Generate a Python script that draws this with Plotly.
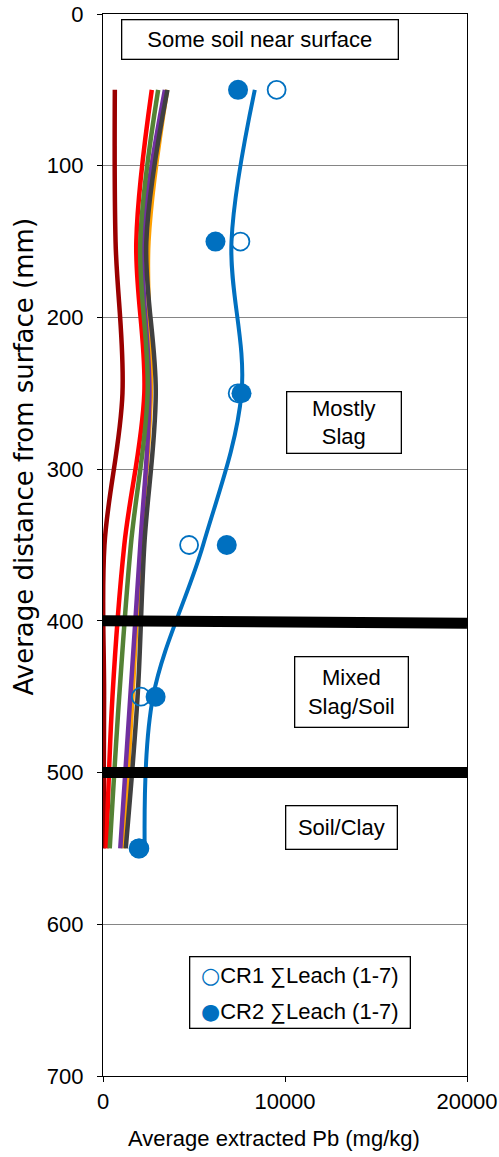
import plotly.graph_objects as go

depth = [50, 150, 250, 350, 450, 550]

dark_red = [650, 690, 1070, 80, 60, 30]
red = [2680, 1830, 2270, 1170, 520, 190]
green = [3030, 2050, 2450, 1530, 890, 370]
purple = [3400, 2190, 2550, 2050, 1500, 950]
orange = [3520, 2500, 2630, 2080, 1620, 1130]
dark_gray = [3540, 2380, 2900, 2270, 1900, 1250]
blue_curve = [8340, 7060, 7610, 5500, 2750, 2290]

cr1 = [9540, 7550, 7400, 4730, 2080, 2000]
cr2 = [7420, 6180, 7610, 6800, 2890, 1960]

x_ticks = [0, 10000, 20000]
x_tick_labels = ["0", "10000", "20000"]

boundary_x = [0, 20000]
boundary_400 = [400, 401.5]
boundary_500 = [500, 500]

FONT = "Liberation Sans, Arial, sans-serif"
BLUE = "#0070C0"

fig = go.Figure()

for xs, col in [(orange, "#FFA000"), (purple, "#7030A0"), (dark_red, "#9A0000"),
                (red, "#FF0000"), (green, "#548235"), (dark_gray, "#404040")]:
    fig.add_trace(go.Scatter(x=xs, y=depth, mode="lines",
                             line=dict(color=col, width=4.5, shape="spline"),
                             showlegend=False, hoverinfo="skip"))

fig.add_trace(go.Scatter(x=blue_curve, y=depth, mode="lines",
                         line=dict(color=BLUE, width=4, shape="spline"),
                         showlegend=False))

for yy in (boundary_400, boundary_500):
    fig.add_trace(go.Scatter(x=boundary_x, y=yy, mode="lines",
                             line=dict(color="black", width=11),
                             showlegend=False))

fig.add_trace(go.Scatter(x=cr1, y=depth, mode="markers", name="CR1 \u2211Leach (1-7)",
                         marker=dict(symbol="circle-open", size=18, color=BLUE,
                                     line=dict(width=1.8, color=BLUE)),
                         showlegend=False))
fig.add_trace(go.Scatter(x=cr2, y=depth, mode="markers", name="CR2 \u2211Leach (1-7)",
                         marker=dict(symbol="circle", size=20, color=BLUE),
                         showlegend=False))


def box(text, x, y, w, h, align="center"):
    fig.add_annotation(x=x, y=y, xref="x", yref="y", text=text, showarrow=False,
                       font=dict(family=FONT, size=22, color="black"),
                       bordercolor="black", borderwidth=1.3, borderpad=0,
                       bgcolor="white", width=w, height=h, align=align)


box("Some soil near surface", 8620, 17.1, 275, 38)
box("Mostly<br>Slag", 13215, 269.3, 113, 60)
box("Mixed<br>Slag/Soil", 13630, 446.7, 112, 69)
box("Soil/Clay", 13130, 536, 110, 42)

# legend box (key drawn as text)
box("&nbsp;", 10848, 644.7, 219, 70)
SYM = "<span style='font-family:DejaVu Sans;color:%s'>%s</span>"
for sym, label, yy in [("\u25CB", "CR1 \u2211Leach (1-7)", 633.5),
                       ("\u25CF", "CR2 \u2211Leach (1-7)", 657.2)]:
    fig.add_annotation(x=5250, y=yy, xref="x", yref="y",
                       text=(SYM % (BLUE, sym)) + label, showarrow=False,
                       xanchor="left", yanchor="middle",
                       font=dict(family=FONT, size=22, color="black"))

# axis titles
fig.add_annotation(x=0.469, y=-0.0584, xref="paper", yref="paper",
                   text="Average extracted Pb (mg/kg)", showarrow=False,
                   xanchor="center", yanchor="middle",
                   font=dict(family=FONT, size=22, color="black"))
fig.add_annotation(x=-0.2157, y=0.5838, xref="paper", yref="paper",
                   text="Average distance from surface (mm)", showarrow=False,
                   textangle=-90, xanchor="center", yanchor="middle",
                   font=dict(family="DejaVu Sans, sans-serif", size=26, color="black"))

fig.update_layout(
    width=499, height=1157,
    margin=dict(l=103, r=32, t=14, b=81),
    paper_bgcolor="white", plot_bgcolor="white",
    font=dict(family=FONT, size=22, color="black"),
    showlegend=False,
    xaxis=dict(range=[0, 20000], tickvals=x_ticks, ticktext=x_tick_labels,
               ticks="outside", ticklen=5, tickcolor="black", showgrid=False,
               zeroline=False, showline=True, linecolor="black", linewidth=1.3,
               mirror=True, automargin=False, tickfont=dict(size=22),
               ticklabeloverflow="allow"),
    yaxis=dict(range=[700, 0], dtick=100, ticks="outside", ticklen=5,
               tickcolor="black", showgrid=True, gridcolor="#858585", gridwidth=1,
               zeroline=False, showline=True, linecolor="black", linewidth=1.3,
               mirror=True, automargin=False, ticklabelstandoff=9,
               tickfont=dict(size=22), ticklabeloverflow="allow"),
)

fig.write_html("out.html",
               config={"displayModeBar": False},
               post_script="document.body.style.margin='0';"
                           "document.body.style.overflow='hidden';")
